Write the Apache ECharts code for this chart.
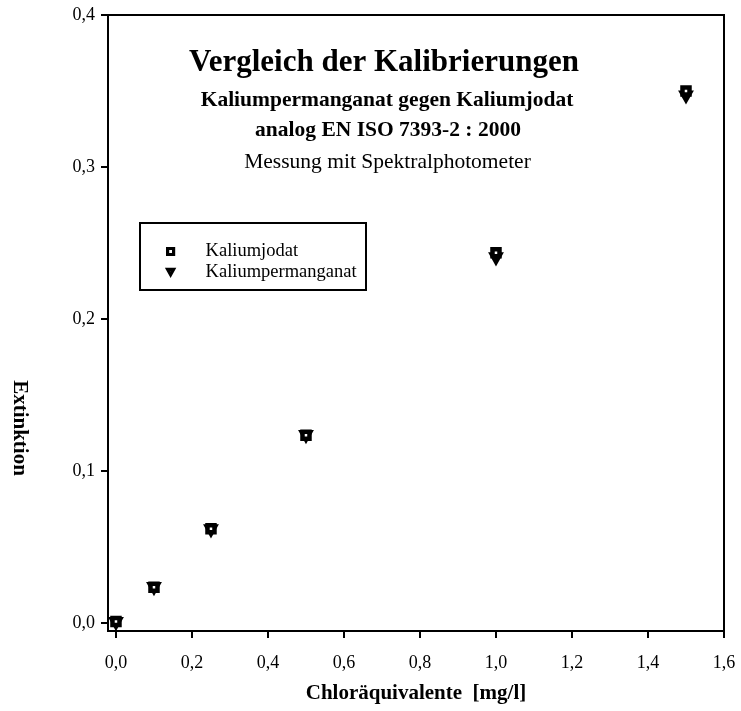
<!DOCTYPE html>
<html>
<head>
<meta charset="utf-8">
<script src="https://cdn.jsdelivr.net/npm/echarts@6/dist/echarts.min.js"></script>
<style>html,body{margin:0;padding:0;background:#fff;}#c{width:741px;height:711px;}</style>
</head>
<body>
<div id="c"></div>
<script>
// Data
const xValues = [0.0, 0.1, 0.25, 0.5, 1.0, 1.5];
const kaliumjodat = [0.001, 0.0235, 0.062, 0.1235, 0.2435, 0.350];
const kaliumpermanganat = [0.000, 0.023, 0.061, 0.123, 0.240, 0.3465];
const xTicks = [0, 0.2, 0.4, 0.6, 0.8, 1.0, 1.2, 1.4, 1.6];
const yTicks = [0, 0.1, 0.2, 0.3, 0.4];
const seriesNames = ['Kaliumjodat', 'Kaliumpermanganat'];
const titleText = 'Vergleich der Kalibrierungen';
const subLines = ['Kaliumpermanganat gegen Kaliumjodat', 'analog EN ISO 7393-2 : 2000'];
const noteLine = 'Messung mit Spektralphotometer';
const xName = 'Chloräquivalente  [mg/l]';
const yName = 'Extinktion';

const FONT = '"Liberation Serif", "Times New Roman", serif';
const fmt = v => v.toFixed(1).replace('.', ',');
const pairs = (xs, ys) => xs.map((x, i) => [x, ys[i]]);
const DOWN_TRI = 'path://M0,0L10,0L5,9Z';

const chart = echarts.init(document.getElementById('c'), null, {renderer: 'canvas'});
chart.setOption({
  animation: false,
  backgroundColor: '#fff',
  grid: {left: 108, right: 17, top: 15, bottom: 80, show: true, borderColor: '#000', borderWidth: 2, backgroundColor: 'transparent'},
  xAxis: {
    type: 'value', min: -0.021, max: 1.6,
    name: xName, nameLocation: 'middle', nameGap: 52,
    nameTextStyle: {fontFamily: FONT, fontWeight: 'bold', fontSize: 21, color: '#000'},
    axisLine: {show: true, onZero: false, lineStyle: {color: '#000', width: 2}},
    axisTick: {show: true, inside: false, length: 7, lineStyle: {color: '#000', width: 2}, customValues: xTicks},
    axisLabel: {customValues: xTicks, formatter: fmt, fontFamily: FONT, fontSize: 18, color: '#000', margin: 23},
    splitLine: {show: false}
  },
  yAxis: {
    type: 'value', min: -0.0053, max: 0.4,
    axisLine: {show: true, onZero: false, lineStyle: {color: '#000', width: 2}},
    axisTick: {show: true, inside: false, length: 7, lineStyle: {color: '#000', width: 2}, customValues: yTicks},
    axisLabel: {customValues: yTicks, formatter: fmt, fontFamily: FONT, fontSize: 18, color: '#000', margin: 13},
    splitLine: {show: false}
  },
  legend: {
    orient: 'vertical', left: 166, top: 242, padding: 0, itemGap: 1.5,
    itemWidth: 6, itemHeight: 6,
    data: seriesNames,
    itemStyle: {borderWidth: 3.2},
    textStyle: {fontFamily: FONT, fontSize: 18.5, color: '#000', padding: [0, 0, 0, 27]}
  },
  graphic: [
    {type: 'rect', shape: {x: 140, y: 223, width: 226, height: 67}, style: {fill: 'none', stroke: '#000', lineWidth: 2}, z: 100},
    {type: 'text', x: 384, y: 63, style: {text: titleText, font: 'bold 31px ' + FONT, fill: '#000', align: 'center', verticalAlign: 'middle'}},
    {type: 'text', x: 387, y: 100, style: {text: subLines[0], font: 'bold 21.5px ' + FONT, fill: '#000', align: 'center', verticalAlign: 'middle'}},
    {type: 'text', x: 388, y: 130.5, style: {text: subLines[1], font: 'bold 21.5px ' + FONT, fill: '#000', align: 'center', verticalAlign: 'middle'}},
    {type: 'text', x: 387.5, y: 162, style: {text: noteLine, font: '21.5px ' + FONT, fill: '#000', align: 'center', verticalAlign: 'middle'}},
    {type: 'text', x: 19, y: 428, rotation: -Math.PI / 2, style: {text: yName, font: 'bold 21px ' + FONT, fill: '#000', align: 'center', verticalAlign: 'middle'}}
  ],
  series: [
    {
      name: seriesNames[0], type: 'scatter', data: pairs(xValues, kaliumjodat),
      symbol: 'rect', symbolSize: 7,
      itemStyle: {color: '#fff', borderColor: '#000', borderWidth: 4.5, opacity: 1},
      z: 3
    },
    {
      name: seriesNames[1], type: 'scatter', data: pairs(xValues, kaliumpermanganat),
      symbol: DOWN_TRI, symbolSize: [9, 8],
      itemStyle: {color: '#fff', borderColor: '#000', borderWidth: 4, opacity: 1},
      z: 2
    }
  ]
});
</script>
</body>
</html>
